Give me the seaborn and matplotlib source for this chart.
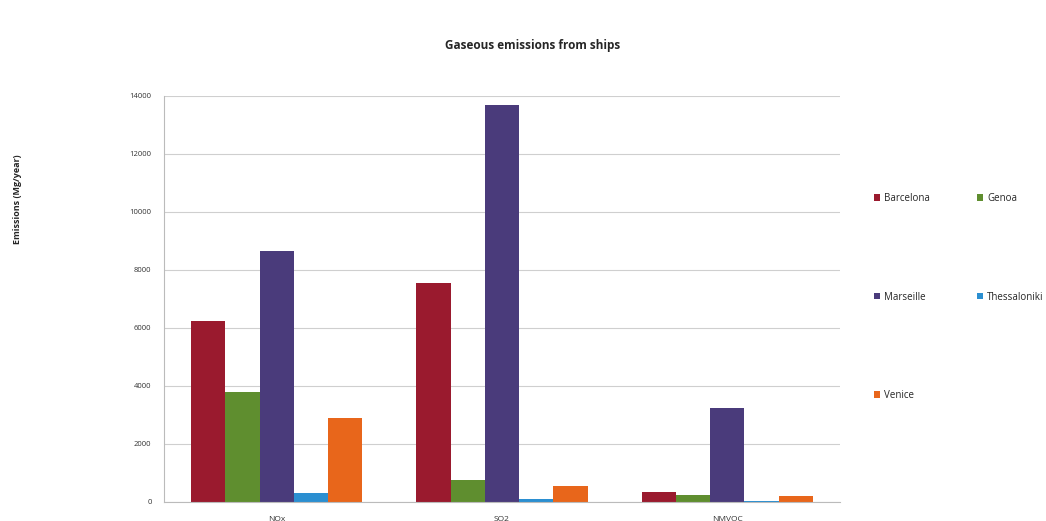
import pandas as pd
import seaborn as sns
import matplotlib.pyplot as plt

pollutants = ['NOx', 'SO2', 'NMVOC']
cities = ['Barcelona', 'Genoa', 'Marseille', 'Thessaloniki', 'Venice']
barcelona = [6250, 7550, 350]
genoa = [3800, 750, 250]
marseille = [8650, 13700, 3250]
thessaloniki = [300, 120, 30]
venice = [2900, 550, 200]
colors = ['#9a1a2e', '#5f8e2f', '#4a3b7b', '#2b8fd1', '#e8661b']

vals = [barcelona, genoa, marseille, thessaloniki, venice]
rows = []
for city, v in zip(cities, vals):
    for p, x in zip(pollutants, v):
        rows.append({'pollutant': p, 'city': city, 'value': x})
df = pd.DataFrame(rows)

sns.set_style('white')
plt.rcParams['font.family'] = ['Open Sans', 'DejaVu Sans']
fig = plt.figure(figsize=(10.46, 5.21), dpi=100)
ax = fig.add_axes([164 / 1046, 1 - 502 / 521, 676 / 1046, 406 / 521])

sns.barplot(data=df, x='pollutant', y='value', hue='city', order=pollutants,
            hue_order=cities, palette=colors, width=0.76, gap=0,
            saturation=1, linewidth=0, ax=ax)

ax.set_ylim(0, 14000)
ax.set_yticks(range(0, 14001, 2000))
ax.set_xlim(-0.5, 2.5)
ax.yaxis.grid(True, color='#cfcfcf', linewidth=0.8)
ax.set_axisbelow(True)
for s in ['top', 'right']:
    ax.spines[s].set_visible(False)
ax.spines['left'].set_color('#bbbbbb')
ax.spines['bottom'].set_color('#bbbbbb')
ax.tick_params(axis='y', labelsize=5.5, colors='#333333', length=3, color='#bbbbbb', pad=6)
ax.set_xticks([0, 1, 2])
ax.set_xticks([0.5, 1.5], minor=True)
ax.tick_params(axis='x', which='major', length=0, labelsize=6, colors='#333333', pad=10)
ax.tick_params(axis='x', which='minor', length=4, color='#bbbbbb')
ax.set_xlabel('')
ax.set_ylabel('')

fig.text(18 / 1046, 1 - 199 / 521, 'Emissions (Mg/year)', rotation=90, fontsize=6.5,
         fontweight='bold', ha='center', va='center')
fig.text(533 / 1046, 1 - 46 / 521, 'Gaseous emissions from ships', fontsize=8.5,
         fontweight='bold', ha='center', va='center')

# row-wise legend order: Barcelona Genoa / Marseille Thessaloniki / Venice
handles, labels = ax.get_legend_handles_labels()
order = [0, 2, 4, 1, 3]
ax.legend([handles[i] for i in order], [labels[i] for i in order], ncol=2,
          frameon=False, fontsize=7, loc='upper left',
          bbox_to_anchor=(874 / 1046, 1 - 193 / 521),
          bbox_transform=fig.transFigure, labelspacing=9.0, columnspacing=4.9,
          handlelength=0.6, handleheight=0.6, handletextpad=0.4,
          borderpad=0, borderaxespad=0)

plt.savefig('out.png', dpi=100)
